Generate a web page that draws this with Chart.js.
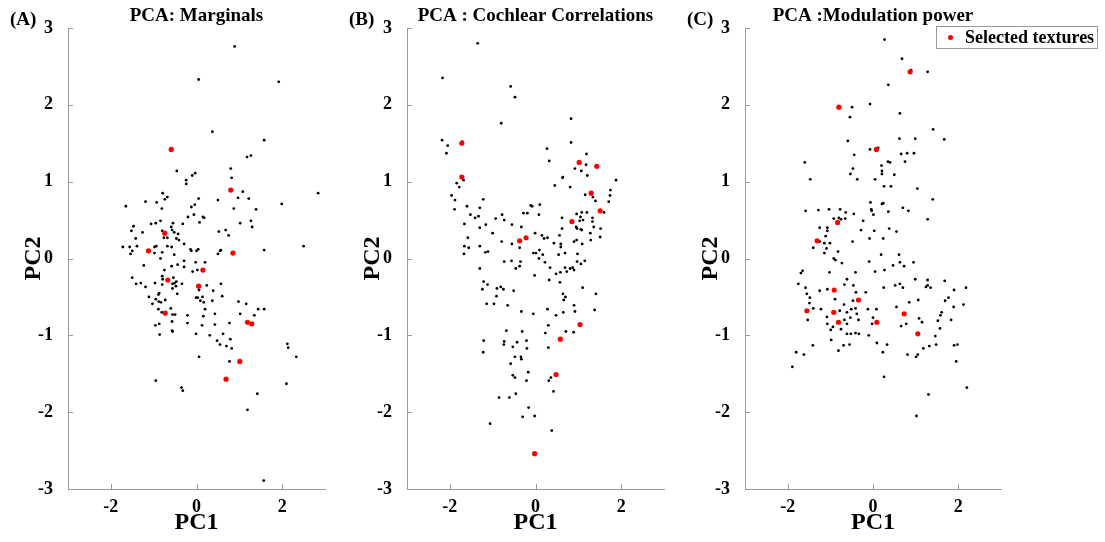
<!DOCTYPE html>
<html>
<head>
<meta charset="utf-8">
<script src="https://cdn.jsdelivr.net/npm/chart.js@4/dist/chart.umd.min.js"></script>
<style>
  body { margin: 0; background: #fff; }
  #wrap { position: relative; width: 1105px; height: 542px; }
  #wrap canvas { position: absolute; left: 0; top: 0; }
</style>
</head>
<body>
<div id="wrap">
  <canvas id="cA" width="1105" height="542"></canvas>
  <canvas id="cB" width="1105" height="542"></canvas>
  <canvas id="cC" width="1105" height="542"></canvas>
</div>
<script>
// tick values / labels
const xTicks = [-2, 0, 2];
const yTicks = [-3, -2, -1, 0, 1, 2, 3];
const panelTitles = ['PCA: Marginals', 'PCA : Cochlear Correlations', 'PCA :Modulation power'];
const panelTags = ['(A)', '(B)', '(C)'];
const legendLabel = 'Selected textures';

// (A) marginals - all textures [PC1, PC2]
const marginalsAll = [
  [0.89,2.76],[0.05,2.33],[1.92,2.30],[0.37,1.65],[1.58,1.54],[1.18,1.32],[1.27,1.34],[-0.46,1.14],
  [-0.10,1.08],[-0.03,1.11],[0.80,1.17],[0.82,1.05],[-0.24,1.02],[-0.24,0.97],[1.08,0.87],[0.97,0.79],
  [1.22,0.78],[2.84,0.85],[1.99,0.71],[1.39,0.64],[0.87,0.65],[0.50,0.76],[0.05,0.78],[-0.04,0.70],
  [-0.12,0.67],[-0.79,0.85],[-0.68,0.80],[-0.74,0.77],[-1.19,0.74],[-0.93,0.73],[-1.65,0.68],[-0.81,0.65],
  [-0.20,0.54],[-0.06,0.57],[0.15,0.54],[0.18,0.53],[0.07,0.47],[1.27,0.49],[1.30,0.41],[1.02,0.46],
  [0.68,0.37],[0.52,0.35],[0.75,0.30],[-0.55,0.46],[-0.32,0.45],[-0.84,0.49],[-0.95,0.46],[-1.06,0.45],
  [-1.47,0.42],[-1.52,0.36],[-1.26,0.34],[-1.42,0.26],[-0.59,0.41],[-0.57,0.37],[-0.52,0.34],[-0.43,0.32],
  [-0.80,0.36],[-0.76,0.27],[-0.68,0.27],[-0.47,0.26],[-0.41,0.24],[-0.29,0.19],[-1.72,0.15],[-1.56,0.15],
  [-1.39,0.16],[-1.50,0.10],[-1.54,0.06],[-0.98,0.15],[-0.94,0.16],[-0.98,0.07],[-0.80,0.08],[-0.68,0.16],
  [-0.58,0.15],[-0.52,0.05],[-0.84,0.00],[-0.14,0.12],[-0.12,0.10],[0.00,0.10],[0.04,0.12],[0.50,0.06],
  [0.55,0.10],[0.57,0.11],[1.58,0.11],[2.50,0.16],[-1.23,-0.09],[-0.29,-0.03],[-0.29,-0.11],[-0.58,-0.10],
  [-0.44,-0.08],[-0.75,-0.15],[-0.02,-0.05],[0.20,-0.05],[-0.09,-0.17],[0.02,-0.15],[-1.50,-0.25],[-1.41,-0.33],
  [-1.30,-0.32],[-1.19,-0.37],[-0.97,-0.32],[-0.80,-0.23],[-0.79,-0.27],[-0.80,-0.34],[-0.54,-0.25],[-0.56,-0.33],
  [-0.51,-0.32],[-0.47,-0.30],[-0.48,-0.36],[-0.34,-0.33],[-0.56,-0.39],[-0.45,-0.46],[-0.87,-0.45],[-0.89,-0.47],
  [-1.11,-0.50],[-0.95,-0.53],[-0.88,-0.56],[-0.83,-0.57],[-0.73,-0.54],[-1.03,-0.59],[0.06,-0.41],[0.24,-0.35],
  [0.39,-0.42],[0.57,-0.33],[0.60,-0.49],[-0.01,-0.51],[0.03,-0.51],[0.09,-0.55],[0.17,-0.57],[0.14,-0.50],
  [0.37,-0.55],[0.20,-0.66],[0.98,-0.56],[1.16,-0.59],[1.44,-0.66],[1.58,-0.66],[1.02,-0.72],[1.35,-0.74],
  [0.43,-0.72],[0.16,-0.75],[0.77,-0.84],[0.43,-0.86],[0.13,-0.87],[-0.21,-0.84],[-0.21,-0.74],[-0.89,-0.66],
  [-0.81,-0.70],[-0.87,-0.85],[-0.96,-0.87],[-0.60,-0.65],[-0.56,-0.73],[-0.50,-0.73],[-0.57,-0.82],[-0.56,-0.95],
  [-0.01,-0.98],[0.62,-0.98],[-0.86,-0.99],[-0.57,-0.94],[0.31,-1.00],[0.48,-1.07],[0.55,-1.12],[0.70,-1.14],
  [0.79,-1.05],[0.82,-1.17],[0.06,-1.28],[0.77,-1.34],[2.12,-1.11],[2.14,-1.16],[2.33,-1.28],[2.10,-1.63],
  [-0.95,-1.59],[-0.35,-1.68],[-0.32,-1.72],[1.42,-1.76],[1.19,-1.97],[1.57,-2.89]
];
const marginalsSelected = [
  [-0.59,1.42],[0.80,0.89],[-0.74,0.33],[-1.12,0.10],[0.85,0.07],[0.15,-0.15],[-0.67,-0.28],
  [0.05,-0.36],[-0.73,-0.71],[1.19,-0.83],[1.29,-0.85],[1.01,-1.34],[0.69,-1.57]
];

// (B) cochlear correlations
const cochlearAll = [
  [-1.35,2.80],[-2.17,2.35],[-0.58,2.24],[-0.48,2.10],[-0.80,1.76],[0.83,1.82],[0.83,1.51],[-2.18,1.54],
  [-2.05,1.47],[-2.08,1.37],[-1.71,1.52],[0.27,1.43],[0.32,1.27],[1.19,1.36],[1.18,1.22],[0.92,1.17],
  [1.07,1.14],[1.21,1.08],[0.64,1.06],[-1.68,1.02],[-1.84,0.98],[-1.78,0.93],[0.63,1.05],[1.88,1.02],
  [0.45,0.95],[0.81,0.93],[1.16,0.83],[1.34,0.80],[1.40,0.75],[1.75,0.89],[1.74,0.82],[1.71,0.74],
  [1.60,0.60],[-1.96,0.82],[-1.88,0.76],[-1.89,0.64],[-1.22,0.77],[-1.60,0.68],[-1.30,0.66],[-1.52,0.57],
  [-1.41,0.53],[-1.33,0.55],[-1.66,0.45],[-1.30,0.40],[-1.16,0.44],[-1.58,0.27],[-1.00,0.33],[-0.93,0.52],
  [-0.78,0.57],[-0.73,0.50],[-0.55,0.44],[-0.33,0.41],[-0.28,0.59],[-0.19,0.59],[-0.11,0.69],[-0.08,0.68],
  [0.10,0.70],[0.08,0.57],[0.62,0.53],[0.96,0.58],[1.08,0.60],[1.20,0.60],[1.05,0.54],[1.11,0.50],
  [1.03,0.49],[1.33,0.53],[1.33,0.48],[1.36,0.41],[1.52,0.39],[1.28,0.33],[1.51,0.28],[1.29,0.24],
  [0.95,0.41],[0.97,0.39],[1.06,0.38],[1.08,0.37],[0.62,0.39],[0.56,0.30],[0.90,0.22],[0.96,0.24],
  [1.09,0.19],[0.43,0.20],[0.59,0.19],[0.59,0.15],[-0.01,0.33],[0.15,0.30],[0.28,0.27],[0.20,0.26],
  [-0.37,0.14],[-0.55,0.19],[-0.79,0.22],[-1.66,0.16],[-1.56,0.14],[-1.67,0.06],[-1.30,0.16],[-1.11,0.09],
  [-1.17,0.08],[-0.05,0.07],[0.01,0.07],[0.09,0.11],[0.17,0.05],[0.08,0.00],[0.22,-0.05],[0.54,0.05],
  [0.69,0.07],[0.98,0.06],[0.97,-0.04],[1.06,-0.07],[1.15,-0.03],[-0.73,-0.04],[-0.56,-0.03],[-0.35,-0.04],
  [-0.37,-0.10],[-0.46,-0.13],[-1.30,-0.13],[0.34,-0.12],[0.69,-0.12],[0.81,-0.13],[0.87,-0.12],[0.90,-0.15],
  [0.73,-0.17],[0.58,-0.18],[0.48,-0.20],[-0.02,-0.22],[0.32,-0.28],[0.57,-0.31],[-1.21,-0.30],[-1.12,-0.34],
  [-1.24,-0.40],[-0.90,-0.39],[-0.81,-0.37],[-0.75,-0.40],[-0.51,-0.42],[1.10,-0.38],[-0.91,-0.49],[1.41,-0.46],
  [0.64,-0.46],[0.70,-0.50],[0.66,-0.54],[-1.14,-0.59],[-0.97,-0.59],[-0.65,-0.61],[0.90,-0.61],[-0.33,-0.69],
  [-0.05,-0.72],[0.28,-0.66],[0.48,-0.74],[0.65,-0.70],[0.92,-0.69],[1.38,-0.67],[0.30,-0.87],[-0.68,-0.94],
  [-0.31,-0.95],[0.23,-0.97],[0.71,-0.95],[0.89,-0.96],[-1.21,-1.07],[-1.22,-1.22],[-0.73,-1.08],[-0.74,-1.12],
  [-0.43,-1.09],[-0.21,-1.07],[-0.53,-1.15],[-0.20,-1.17],[0.30,-1.16],[-0.48,-1.28],[-0.34,-1.28],[-0.33,-1.31],
  [-0.58,-1.37],[-0.17,-1.48],[-0.53,-1.52],[-0.48,-1.55],[-0.21,-1.59],[0.36,-1.55],[0.31,-1.59],[0.42,-1.73],
  [-0.85,-1.81],[-0.61,-1.81],[-0.46,-1.76],[-0.16,-1.94],[-0.30,-2.06],[-0.02,-2.05],[-1.06,-2.15],[0.38,-2.24]
];
const cochlearSelected = [
  [-1.72,1.50],[1.02,1.25],[1.43,1.20],[-1.72,1.06],[1.30,0.85],[1.51,0.62],[0.85,0.48],
  [-0.22,0.27],[-0.37,0.23],[1.04,-0.86],[0.58,-1.05],[0.48,-1.51],[-0.02,-2.54]
];

// (C) modulation power
const modulationAll = [
  [0.27,2.85],[0.68,2.60],[0.89,2.45],[1.28,2.43],[0.36,2.26],[-0.49,1.97],[-0.07,2.01],[-0.54,1.84],
  [0.63,1.89],[1.41,1.68],[1.67,1.55],[0.62,1.56],[0.99,1.56],[-0.59,1.53],[0.12,1.44],[-0.07,1.42],
  [-0.44,1.35],[0.66,1.36],[0.80,1.37],[0.96,1.37],[0.75,1.26],[-1.60,1.25],[0.35,1.26],[0.40,1.25],
  [0.20,1.21],[0.21,1.14],[0.21,1.10],[-0.47,1.17],[-0.53,1.10],[0.50,1.09],[-1.47,1.03],[-0.37,1.03],
  [0.05,1.03],[0.26,0.94],[0.42,0.94],[1.04,0.91],[1.40,0.77],[-0.06,0.73],[0.21,0.71],[0.24,0.72],
  [-0.04,0.64],[-0.03,0.62],[0.01,0.57],[0.70,0.66],[0.83,0.62],[0.36,0.61],[1.28,0.51],[-1.58,0.62],
  [-1.28,0.63],[-1.03,0.64],[-0.77,0.64],[-0.64,0.60],[-0.45,0.58],[-0.92,0.52],[-0.80,0.53],[-0.75,0.51],
  [-0.65,0.52],[-0.23,0.49],[-1.25,0.40],[-1.07,0.40],[-1.07,0.36],[-0.28,0.37],[0.03,0.36],[0.38,0.39],
  [0.55,0.35],[-1.11,0.29],[-0.08,0.26],[0.24,0.26],[-1.25,0.22],[-1.14,0.20],[-1.01,0.20],[-1.40,0.14],
  [-1.09,0.13],[-0.48,0.22],[-0.82,0.09],[-1.14,0.07],[0.19,0.05],[0.61,0.05],[-0.92,0.00],[-0.88,-0.02],
  [-0.73,-0.06],[-0.09,-0.04],[0.63,-0.05],[0.47,-0.09],[0.73,-0.10],[0.95,-0.05],[-1.65,-0.16],[-1.69,-0.19],
  [-1.02,-0.18],[-0.41,-0.18],[0.05,-0.17],[0.27,-0.15],[-0.61,-0.27],[-1.75,-0.33],[-1.58,-0.38],[-1.55,-0.46],
  [-1.48,-0.51],[-1.49,-0.58],[-1.25,-0.42],[-1.07,-0.40],[-0.67,-0.34],[-0.46,-0.35],[-0.40,-0.44],[-0.17,-0.44],
  [0.25,-0.38],[0.52,-0.35],[0.63,-0.33],[0.70,-0.38],[0.99,-0.27],[1.24,-0.37],[1.28,-0.35],[1.28,-0.28],
  [1.35,-0.38],[1.68,-0.29],[1.90,-0.41],[2.18,-0.38],[-0.89,-0.53],[-0.47,-0.55],[-0.68,-0.60],[1.06,-0.54],
  [0.85,-0.57],[1.77,-0.51],[1.69,-0.55],[1.89,-0.63],[2.12,-0.60],[-1.40,-0.65],[-1.22,-0.66],[-0.78,-0.68],
  [-0.61,-0.70],[-0.51,-0.66],[-0.41,-0.65],[-0.38,-0.72],[-0.12,-0.66],[0.08,-0.66],[0.55,-0.63],[1.61,-0.70],
  [1.58,-0.74],[-1.08,-0.76],[-0.53,-0.77],[-0.34,-0.80],[-0.67,-0.80],[-0.61,-0.85],[-1.53,-0.80],[-1.07,-0.85],
  [0.00,-0.77],[-0.02,-0.85],[1.08,-0.78],[1.15,-0.83],[0.78,-0.85],[0.66,-0.88],[1.52,-0.81],[1.83,-0.80],
  [1.57,-0.91],[-0.94,-0.89],[-0.99,-0.93],[-0.75,-0.92],[-0.61,-0.98],[-0.52,-0.98],[-0.41,-0.97],[-0.33,-0.98],
  [-0.10,-1.00],[1.46,-1.01],[-0.98,-1.06],[-1.41,-1.13],[-1.80,-1.22],[-1.62,-1.25],[-1.89,-1.41],[-0.81,-1.20],
  [-0.69,-1.13],[-0.55,-1.12],[0.09,-1.10],[0.23,-1.22],[0.33,-1.12],[0.26,-1.54],[0.81,-1.25],[1.01,-1.28],
  [1.05,-1.25],[1.18,-1.17],[1.32,-1.14],[1.48,-1.12],[1.90,-1.13],[1.98,-1.12],[1.95,-1.34],[2.20,-1.68],
  [1.30,-1.77],[1.02,-2.05]
];
const modulationSelected = [
  [0.87,2.43],[-0.80,1.97],[0.08,1.42],[-0.83,0.47],[-1.31,0.23],[-0.91,-0.41],[-0.34,-0.54],
  [-1.55,-0.68],[-0.92,-0.70],[0.73,-0.72],[-0.81,-0.83],[0.09,-0.83],[1.05,-0.98]
];

const axisColor = '#9a9a9a';
const serif = '"Liberation Serif", "Times New Roman", serif';
Chart.defaults.font.family = serif;
Chart.defaults.color = '#000';

// ticks pointing into the plot, matlab style
const inwardTicks = {
  id: 'inwardTicks',
  afterDatasetsDraw(chart) {
    const { ctx, chartArea: a, scales: { x, y } } = chart;
    ctx.save();
    ctx.strokeStyle = axisColor;
    ctx.lineWidth = 1;
    ctx.beginPath();
    x.ticks.forEach(t => {
      const px = Math.round(x.getPixelForValue(t.value)) + 0.5;
      ctx.moveTo(px, a.bottom); ctx.lineTo(px, a.bottom - 5);
    });
    y.ticks.forEach(t => {
      const py = Math.round(y.getPixelForValue(t.value)) + 0.5;
      ctx.moveTo(a.left, py); ctx.lineTo(a.left + 5, py);
    });
    ctx.stroke();
    ctx.restore();
  }
};

// panel title + (A)/(B)/(C) tag
const panelText = {
  id: 'panelText',
  afterDraw(chart, args, opts) {
    const { ctx, chartArea: a } = chart;
    ctx.save();
    ctx.fillStyle = '#000';
    ctx.textBaseline = 'middle';
    ctx.font = 'bold 19px ' + serif;
    ctx.textAlign = 'center';
    ctx.fillText(opts.title, (a.left + a.right) / 2, 16);
    ctx.textAlign = 'left';
    ctx.fillText(opts.tag, a.left - 58, 20);
    ctx.restore();
  }
};

// small boxed legend (only panel C)
const boxLegend = {
  id: 'boxLegend',
  afterDraw(chart, args, opts) {
    if (!opts.show) return;
    const ctx = chart.ctx;
    ctx.save();
    ctx.fillStyle = '#fff';
    ctx.strokeStyle = axisColor;
    ctx.lineWidth = 1;
    ctx.fillRect(936.5, 26.5, 161, 22);
    ctx.strokeRect(936.5, 26.5, 161, 22);
    ctx.fillStyle = '#ff0000';
    ctx.beginPath();
    ctx.arc(950.5, 37.5, 2.5, 0, Math.PI * 2);
    ctx.fill();
    ctx.fillStyle = '#000';
    ctx.font = 'bold 18px ' + serif;
    ctx.textBaseline = 'middle';
    ctx.fillText(legendLabel, 965, 38);
    ctx.restore();
  }
};

function toPts(arr) {
  return arr.map(p => ({ x: p[0], y: p[1] }));
}

function makePanel(id, idx, all, selected, areaLeft, areaRight) {
  new Chart(document.getElementById(id), {
    type: 'scatter',
    data: {
      datasets: [
        { label: legendLabel, data: toPts(selected), pointRadius: 2.6, pointBackgroundColor: '#ff0000', pointBorderWidth: 0 },
        { label: 'all', data: toPts(all), pointRadius: 1.4, pointBackgroundColor: '#000', pointBorderWidth: 0 }
      ]
    },
    options: {
      responsive: false,
      animation: false,
      events: [],
      layout: { padding: { left: areaLeft - 60, right: 1105 - areaRight, top: 28, bottom: 0 } },
      plugins: {
        legend: { display: false },
        tooltip: { enabled: false },
        panelText: { title: panelTitles[idx], tag: panelTags[idx] },
        boxLegend: { show: idx === 2 }
      },
      scales: {
        x: {
          type: 'linear', min: -3, max: 3,
          grid: { display: false, drawTicks: false },
          border: { display: true, color: axisColor, width: 1 },
          afterBuildTicks: s => { s.ticks = xTicks.map(v => ({ value: v })); },
          afterFit: s => { s.height = 53; },
          ticks: { padding: 8, color: '#000', font: { size: 18, weight: 'bold' } },
          title: { display: true, text: 'PC1', color: '#000', font: { size: 24, weight: 'bold' }, padding: { top: 0, bottom: 5 } }
        },
        y: {
          type: 'linear', min: -3, max: 3,
          grid: { display: false, drawTicks: false },
          border: { display: true, color: axisColor, width: 1 },
          afterBuildTicks: s => { s.ticks = yTicks.map(v => ({ value: v })); },
          afterFit: s => { s.width = 60; },
          ticks: { padding: 15, color: '#000', font: { size: 18, weight: 'bold' } },
          title: { display: true, text: 'PC2', color: '#000', font: { size: 24, weight: 'bold' }, padding: { top: 11, bottom: 0 } }
        }
      }
    },
    plugins: [inwardTicks, panelText, boxLegend]
  });
}

makePanel('cA', 0, marginalsAll, marginalsSelected, 68, 325);
makePanel('cB', 1, cochlearAll, cochlearSelected, 407, 664);
makePanel('cC', 2, modulationAll, modulationSelected, 745, 1001);
</script>
</body>
</html>
